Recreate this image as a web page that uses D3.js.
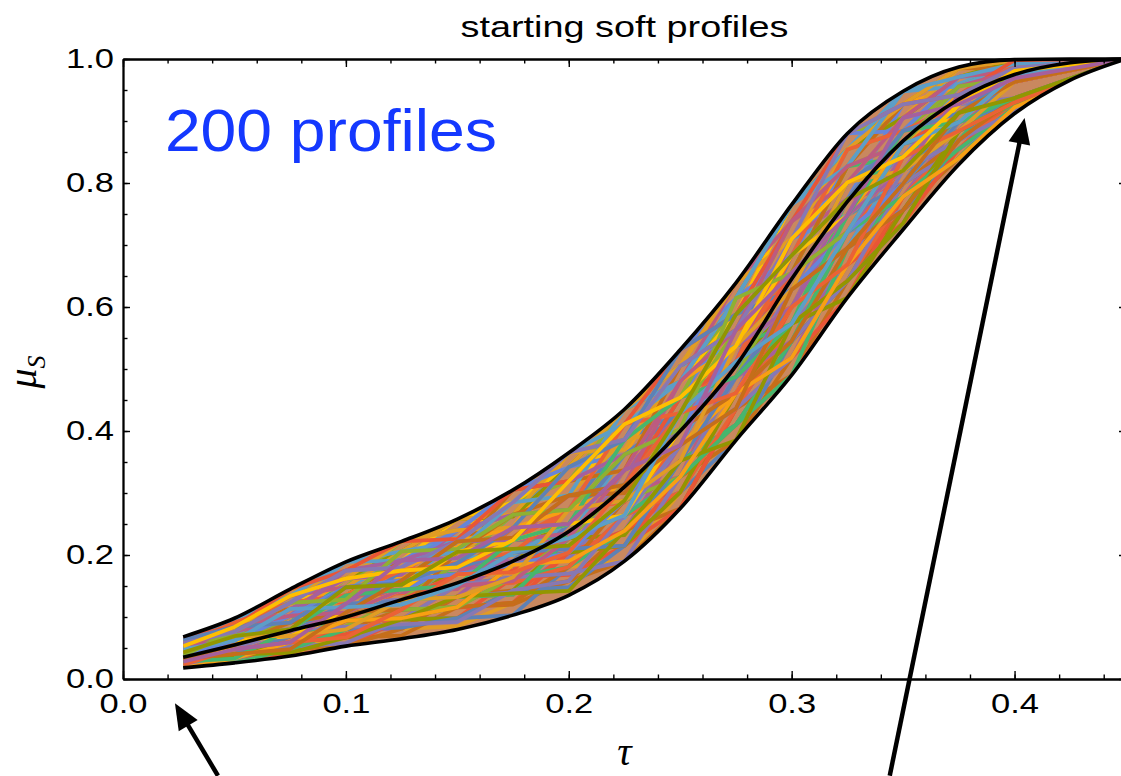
<!DOCTYPE html>
<html>
<head>
<meta charset="utf-8">
<script src="https://cdn.jsdelivr.net/npm/d3@7"></script>
<style>
  body { margin: 0; background: #fff; }
</style>
</head>
<body>
<svg id="chart" width="1121" height="776"></svg>
<script>
// tau grid the sampled profiles are read at
const tauGrid = [0.027, 0.05, 0.075, 0.1, 0.125, 0.15, 0.175, 0.2, 0.225, 0.25,
  0.275, 0.3, 0.325, 0.35, 0.375, 0.4, 0.45];

// soft profiles (a sample of the 200 drawn), mu_S at each tauGrid point
const profiles = [
  [0.043, 0.048, 0.102, 0.107, 0.175, 0.18, 0.19, 0.273, 0.386, 0.429, 0.487, 0.683, 0.748, 0.799, 0.927, 0.963, 1],
  [0.018, 0.033, 0.037, 0.08, 0.081, 0.085, 0.123, 0.181, 0.19, 0.301, 0.385, 0.518, 0.668, 0.735, 0.855, 0.915, 1],
  [0.068, 0.091, 0.145, 0.162, 0.206, 0.258, 0.285, 0.319, 0.435, 0.505, 0.639, 0.738, 0.827, 0.948, 0.971, 0.998, 1],
  [0.028, 0.055, 0.06, 0.094, 0.144, 0.15, 0.184, 0.273, 0.285, 0.403, 0.563, 0.6, 0.668, 0.842, 0.884, 0.975, 1],
  [0.043, 0.062, 0.102, 0.121, 0.128, 0.187, 0.204, 0.25, 0.337, 0.403, 0.487, 0.628, 0.774, 0.842, 0.898, 0.975, 1],
  [0.023, 0.026, 0.059, 0.067, 0.07, 0.116, 0.12, 0.158, 0.239, 0.275, 0.436, 0.49, 0.642, 0.756, 0.84, 0.93, 1],
  [0.058, 0.069, 0.134, 0.148, 0.152, 0.222, 0.224, 0.227, 0.362, 0.505, 0.537, 0.71, 0.748, 0.884, 0.971, 0.975, 1],
  [0.063, 0.098, 0.123, 0.175, 0.222, 0.228, 0.305, 0.342, 0.386, 0.531, 0.614, 0.765, 0.854, 0.905, 0.985, 0.992, 1],
  [0.023, 0.04, 0.08, 0.08, 0.081, 0.133, 0.204, 0.204, 0.239, 0.377, 0.436, 0.518, 0.695, 0.778, 0.898, 0.937, 1],
  [0.038, 0.069, 0.091, 0.135, 0.144, 0.169, 0.184, 0.273, 0.313, 0.429, 0.512, 0.6, 0.748, 0.863, 0.913, 0.969, 1],
  [0.028, 0.033, 0.037, 0.053, 0.096, 0.098, 0.164, 0.168, 0.215, 0.326, 0.41, 0.49, 0.615, 0.778, 0.869, 0.922, 1],
  [0.063, 0.076, 0.123, 0.189, 0.192, 0.24, 0.265, 0.273, 0.411, 0.454, 0.588, 0.738, 0.801, 0.905, 0.927, 0.986, 1],
  [0.058, 0.091, 0.145, 0.189, 0.191, 0.24, 0.244, 0.365, 0.411, 0.48, 0.639, 0.71, 0.88, 0.927, 0.956, 0.998, 1],
  [0.048, 0.055, 0.091, 0.107, 0.159, 0.169, 0.224, 0.227, 0.313, 0.377, 0.537, 0.655, 0.721, 0.842, 0.927, 0.963, 1],
  [0.038, 0.069, 0.091, 0.162, 0.165, 0.17, 0.244, 0.25, 0.264, 0.403, 0.537, 0.573, 0.774, 0.82, 0.869, 0.969, 1],
  [0.018, 0.04, 0.048, 0.094, 0.096, 0.098, 0.103, 0.181, 0.264, 0.301, 0.385, 0.545, 0.642, 0.735, 0.884, 0.922, 1],
  [0.048, 0.084, 0.113, 0.121, 0.206, 0.212, 0.225, 0.319, 0.337, 0.377, 0.563, 0.655, 0.827, 0.863, 0.913, 0.981, 1],
  [0.068, 0.084, 0.134, 0.148, 0.222, 0.24, 0.265, 0.342, 0.435, 0.505, 0.563, 0.738, 0.88, 0.905, 0.971, 0.992, 1],
  [0.033, 0.062, 0.113, 0.121, 0.125, 0.169, 0.244, 0.25, 0.264, 0.403, 0.563, 0.628, 0.695, 0.842, 0.942, 0.969, 1],
  [0.033, 0.035, 0.069, 0.121, 0.125, 0.187, 0.19, 0.195, 0.288, 0.326, 0.461, 0.628, 0.721, 0.756, 0.884, 0.93, 1],
  [0.033, 0.04, 0.048, 0.053, 0.081, 0.133, 0.143, 0.158, 0.19, 0.275, 0.436, 0.573, 0.642, 0.778, 0.84, 0.915, 1],
  [0.053, 0.091, 0.102, 0.162, 0.222, 0.228, 0.285, 0.296, 0.313, 0.48, 0.614, 0.683, 0.854, 0.948, 0.96, 0.992, 1],
  [0.053, 0.091, 0.123, 0.175, 0.191, 0.258, 0.285, 0.296, 0.411, 0.531, 0.588, 0.765, 0.854, 0.927, 0.985, 0.986, 1],
  [0.053, 0.062, 0.069, 0.121, 0.175, 0.178, 0.182, 0.25, 0.362, 0.403, 0.461, 0.628, 0.801, 0.842, 0.884, 0.969, 1],
  [0.018, 0.04, 0.069, 0.072, 0.096, 0.098, 0.143, 0.227, 0.232, 0.352, 0.41, 0.545, 0.642, 0.799, 0.855, 0.922, 1],
  [0.023, 0.048, 0.059, 0.067, 0.112, 0.115, 0.123, 0.204, 0.239, 0.301, 0.461, 0.518, 0.615, 0.756, 0.869, 0.93, 1],
  [0.043, 0.076, 0.08, 0.135, 0.14, 0.187, 0.265, 0.342, 0.362, 0.429, 0.512, 0.71, 0.774, 0.927, 0.942, 0.969, 1],
  [0.063, 0.076, 0.134, 0.189, 0.206, 0.212, 0.305, 0.319, 0.362, 0.505, 0.639, 0.71, 0.827, 0.948, 0.971, 0.998, 1],
  [0.043, 0.076, 0.102, 0.107, 0.144, 0.205, 0.224, 0.227, 0.313, 0.454, 0.537, 0.6, 0.748, 0.884, 0.927, 0.963, 1],
  [0.028, 0.048, 0.102, 0.107, 0.159, 0.222, 0.224, 0.23, 0.313, 0.454, 0.487, 0.655, 0.827, 0.842, 0.898, 0.981, 1],
  [0.028, 0.03, 0.069, 0.08, 0.083, 0.098, 0.143, 0.148, 0.215, 0.352, 0.41, 0.545, 0.695, 0.756, 0.855, 0.915, 1],
  [0.058, 0.062, 0.113, 0.118, 0.144, 0.205, 0.285, 0.296, 0.386, 0.403, 0.461, 0.6, 0.774, 0.884, 0.913, 0.986, 1],
  [0.058, 0.098, 0.134, 0.162, 0.175, 0.24, 0.265, 0.365, 0.386, 0.454, 0.614, 0.765, 0.854, 0.884, 0.956, 0.992, 1],
  [0.038, 0.055, 0.102, 0.135, 0.138, 0.151, 0.224, 0.273, 0.288, 0.377, 0.537, 0.655, 0.721, 0.82, 0.927, 0.975, 1],
  [0.038, 0.048, 0.059, 0.121, 0.128, 0.132, 0.14, 0.204, 0.337, 0.377, 0.436, 0.573, 0.668, 0.82, 0.927, 0.937, 1],
  [0.038, 0.048, 0.05, 0.08, 0.112, 0.116, 0.123, 0.181, 0.288, 0.326, 0.385, 0.518, 0.668, 0.799, 0.869, 0.922, 1],
  [0.048, 0.055, 0.091, 0.148, 0.191, 0.195, 0.2, 0.25, 0.26, 0.377, 0.537, 0.628, 0.695, 0.842, 0.956, 0.975, 1],
  [0.068, 0.091, 0.113, 0.175, 0.222, 0.226, 0.285, 0.342, 0.435, 0.48, 0.588, 0.738, 0.88, 0.927, 0.985, 0.992, 1],
  [0.048, 0.069, 0.08, 0.107, 0.159, 0.187, 0.19, 0.227, 0.337, 0.429, 0.487, 0.6, 0.774, 0.863, 0.898, 0.963, 1],
  [0.068, 0.084, 0.134, 0.162, 0.206, 0.258, 0.262, 0.342, 0.435, 0.48, 0.614, 0.765, 0.854, 0.905, 0.971, 0.998, 1],
  [0.023, 0.04, 0.069, 0.072, 0.096, 0.133, 0.136, 0.204, 0.215, 0.275, 0.436, 0.6, 0.668, 0.735, 0.855, 0.937, 1],
  [0.048, 0.084, 0.145, 0.175, 0.191, 0.24, 0.305, 0.319, 0.411, 0.531, 0.614, 0.683, 0.827, 0.948, 0.971, 0.986, 1],
  [0.028, 0.055, 0.102, 0.162, 0.165, 0.168, 0.172, 0.227, 0.337, 0.48, 0.537, 0.6, 0.668, 0.82, 0.927, 0.986, 1],
  [0.033, 0.062, 0.123, 0.135, 0.14, 0.145, 0.224, 0.296, 0.3, 0.326, 0.512, 0.71, 0.774, 0.799, 0.898, 0.963, 1],
  [0.018, 0.033, 0.059, 0.107, 0.112, 0.116, 0.164, 0.181, 0.239, 0.352, 0.41, 0.49, 0.695, 0.778, 0.84, 0.93, 1],
  [0.053, 0.069, 0.08, 0.121, 0.125, 0.151, 0.164, 0.25, 0.362, 0.429, 0.588, 0.628, 0.801, 0.863, 0.884, 0.969, 1],
  [0.063, 0.084, 0.134, 0.148, 0.206, 0.258, 0.265, 0.365, 0.37, 0.505, 0.639, 0.738, 0.801, 0.905, 0.985, 0.998, 1],
  [0.058, 0.069, 0.08, 0.085, 0.128, 0.187, 0.265, 0.273, 0.288, 0.326, 0.487, 0.655, 0.827, 0.863, 0.898, 0.93, 1],
  [0.023, 0.026, 0.048, 0.094, 0.096, 0.151, 0.155, 0.181, 0.264, 0.301, 0.436, 0.573, 0.642, 0.778, 0.869, 0.922, 1],
  [0.028, 0.048, 0.052, 0.058, 0.096, 0.151, 0.164, 0.17, 0.19, 0.326, 0.487, 0.545, 0.642, 0.799, 0.855, 0.915, 1],
  [0.063, 0.098, 0.113, 0.135, 0.191, 0.205, 0.305, 0.319, 0.337, 0.505, 0.563, 0.655, 0.827, 0.927, 0.985, 0.986, 1],
  [0.053, 0.098, 0.123, 0.189, 0.206, 0.222, 0.285, 0.296, 0.435, 0.48, 0.614, 0.765, 0.854, 0.948, 0.956, 0.992, 1],
  [0.043, 0.048, 0.08, 0.135, 0.175, 0.187, 0.204, 0.21, 0.288, 0.429, 0.563, 0.655, 0.748, 0.799, 0.898, 0.975, 1],
  [0.043, 0.055, 0.113, 0.162, 0.168, 0.24, 0.265, 0.273, 0.288, 0.352, 0.487, 0.545, 0.721, 0.842, 0.942, 0.975, 1],
  [0.033, 0.036, 0.059, 0.094, 0.098, 0.116, 0.184, 0.204, 0.215, 0.301, 0.461, 0.573, 0.615, 0.756, 0.884, 0.93, 1],
  [0.028, 0.062, 0.069, 0.08, 0.128, 0.169, 0.175, 0.227, 0.313, 0.454, 0.512, 0.655, 0.721, 0.863, 0.913, 0.963, 1],
  [0.068, 0.091, 0.123, 0.175, 0.18, 0.24, 0.305, 0.342, 0.386, 0.531, 0.588, 0.738, 0.88, 0.884, 0.971, 0.986, 1],
  [0.033, 0.055, 0.091, 0.135, 0.175, 0.222, 0.244, 0.273, 0.313, 0.377, 0.461, 0.6, 0.748, 0.863, 0.942, 0.986, 1],
  [0.048, 0.076, 0.134, 0.148, 0.159, 0.169, 0.224, 0.235, 0.313, 0.48, 0.639, 0.738, 0.801, 0.905, 0.971, 0.981, 1],
  [0.023, 0.026, 0.048, 0.08, 0.128, 0.132, 0.136, 0.227, 0.264, 0.326, 0.41, 0.545, 0.721, 0.778, 0.855, 0.922, 1],
  [0.038, 0.04, 0.069, 0.107, 0.175, 0.18, 0.204, 0.21, 0.215, 0.352, 0.487, 0.6, 0.748, 0.799, 0.898, 0.93, 1],
  [0.058, 0.076, 0.145, 0.162, 0.222, 0.24, 0.244, 0.342, 0.435, 0.505, 0.639, 0.71, 0.854, 0.927, 0.985, 0.998, 1],
  [0.053, 0.069, 0.091, 0.107, 0.112, 0.116, 0.164, 0.227, 0.313, 0.429, 0.563, 0.655, 0.748, 0.82, 0.884, 0.93, 1],
  [0.058, 0.091, 0.123, 0.135, 0.175, 0.187, 0.204, 0.273, 0.411, 0.429, 0.512, 0.683, 0.854, 0.884, 0.927, 0.992, 1],
  [0.018, 0.048, 0.08, 0.084, 0.088, 0.092, 0.143, 0.158, 0.264, 0.377, 0.436, 0.518, 0.668, 0.82, 0.869, 0.915, 1],
  [0.033, 0.055, 0.091, 0.107, 0.112, 0.205, 0.265, 0.296, 0.3, 0.403, 0.461, 0.545, 0.695, 0.756, 0.869, 0.937, 1],
  [0.063, 0.098, 0.134, 0.189, 0.191, 0.205, 0.285, 0.365, 0.411, 0.48, 0.614, 0.765, 0.827, 0.948, 0.971, 0.992, 1],
  [0.048, 0.062, 0.069, 0.107, 0.144, 0.205, 0.224, 0.25, 0.264, 0.403, 0.537, 0.683, 0.748, 0.82, 0.927, 0.969, 1],
  [0.053, 0.062, 0.102, 0.175, 0.191, 0.222, 0.224, 0.319, 0.362, 0.403, 0.537, 0.6, 0.748, 0.82, 0.942, 0.969, 1],
  [0.028, 0.04, 0.042, 0.067, 0.096, 0.133, 0.138, 0.142, 0.239, 0.352, 0.385, 0.573, 0.642, 0.735, 0.884, 0.93, 1],
  [0.068, 0.084, 0.145, 0.175, 0.222, 0.226, 0.305, 0.319, 0.411, 0.531, 0.588, 0.738, 0.88, 0.927, 0.942, 0.998, 1],
  [0.038, 0.062, 0.102, 0.148, 0.159, 0.169, 0.184, 0.204, 0.288, 0.403, 0.537, 0.628, 0.721, 0.799, 0.913, 0.975, 1],
  [0.018, 0.033, 0.059, 0.094, 0.098, 0.116, 0.184, 0.19, 0.239, 0.326, 0.461, 0.518, 0.668, 0.778, 0.84, 0.922, 1],
  [0.048, 0.084, 0.102, 0.107, 0.144, 0.15, 0.158, 0.227, 0.337, 0.48, 0.563, 0.738, 0.827, 0.863, 0.956, 0.981, 1],
  [0.028, 0.033, 0.08, 0.135, 0.144, 0.151, 0.224, 0.25, 0.386, 0.454, 0.487, 0.573, 0.748, 0.884, 0.898, 0.937, 1],
  [0.063, 0.084, 0.091, 0.148, 0.155, 0.187, 0.244, 0.342, 0.386, 0.531, 0.588, 0.683, 0.774, 0.884, 0.913, 0.975, 1],
  [0.043, 0.069, 0.069, 0.08, 0.128, 0.132, 0.164, 0.273, 0.288, 0.352, 0.537, 0.628, 0.801, 0.82, 0.884, 0.963, 1],
  [0.038, 0.076, 0.123, 0.128, 0.206, 0.21, 0.265, 0.273, 0.362, 0.403, 0.614, 0.655, 0.721, 0.863, 0.956, 0.969, 1],
  [0.023, 0.048, 0.059, 0.067, 0.112, 0.169, 0.172, 0.204, 0.313, 0.429, 0.461, 0.6, 0.668, 0.842, 0.884, 0.93, 1],
  [0.058, 0.076, 0.123, 0.175, 0.18, 0.222, 0.285, 0.365, 0.386, 0.505, 0.563, 0.71, 0.88, 0.927, 0.942, 0.986, 1],
  [0.033, 0.04, 0.048, 0.107, 0.159, 0.222, 0.228, 0.296, 0.313, 0.377, 0.436, 0.628, 0.695, 0.799, 0.913, 0.963, 1],
  [0.048, 0.062, 0.113, 0.116, 0.12, 0.151, 0.204, 0.227, 0.264, 0.429, 0.512, 0.573, 0.721, 0.863, 0.898, 0.975, 1],
  [0.053, 0.084, 0.134, 0.162, 0.175, 0.18, 0.224, 0.319, 0.411, 0.454, 0.537, 0.71, 0.801, 0.842, 0.927, 0.981, 1],
  [0.028, 0.048, 0.059, 0.121, 0.191, 0.195, 0.244, 0.25, 0.337, 0.377, 0.563, 0.655, 0.748, 0.905, 0.927, 0.969, 1],
  [0.043, 0.069, 0.08, 0.148, 0.152, 0.205, 0.21, 0.215, 0.288, 0.429, 0.588, 0.683, 0.774, 0.82, 0.913, 0.937, 1],
];

// the three black reference profiles
const tauEnv = [0.027, 0.05, 0.075, 0.1, 0.125, 0.15, 0.175, 0.2, 0.225, 0.25,
  0.275, 0.3, 0.325, 0.35, 0.375, 0.4, 0.425, 0.45];
const upperProfile = [0.068, 0.098, 0.145, 0.189, 0.222, 0.258, 0.305, 0.365, 0.435, 0.531,
  0.639, 0.765, 0.88, 0.948, 0.987, 0.999, 1.0, 1.0];
const middleProfile = [0.035, 0.055, 0.078, 0.1, 0.128, 0.155, 0.19, 0.238, 0.31, 0.4,
  0.505, 0.645, 0.77, 0.868, 0.935, 0.975, 0.994, 1.0];
const lowerProfile = [0.018, 0.026, 0.037, 0.053, 0.065, 0.08, 0.103, 0.135, 0.19, 0.275,
  0.385, 0.49, 0.615, 0.725, 0.83, 0.912, 0.966, 1.0];

const xTicks = [0, 0.1, 0.2, 0.3, 0.4];
const yTicks = [0, 0.2, 0.4, 0.6, 0.8, 1.0];

// Mathematica default plot colours
const palette = ["#5E81B5", "#E19C24", "#8FB032", "#EB6235", "#8778B3", "#C56E1A",
  "#5D9EC7", "#FFBF00", "#A5609D", "#929600", "#E95536", "#6685D9", "#F89F13",
  "#BC5B80", "#47B66D"];

// annotation arrows, [tau, mu] of tail and tip
const arrows = [
  { from: [0.0426, -0.156], to: [0.0233, -0.039] },
  { from: [0.344, -0.156], to: [0.4045, 0.905] },
];

const svg = d3.select("#chart");
const x = d3.scaleLinear().domain([0, 0.45]).range([123, 1126]);
const y = d3.scaleLinear().domain([0, 1]).range([679, 59]);

const sansFont = "'Liberation Sans', Arial, Helvetica, sans-serif";
const serifFont = "'Liberation Serif', 'Times New Roman', serif";

// band between the outer black profiles: clips the coloured ones and
// gives a blended backing so no white shows through the tangle
const band = d3.area()
  .x((d, i) => x(tauEnv[i]))
  .y0((d, i) => y(lowerProfile[i]))
  .y1((d, i) => y(upperProfile[i]))
  .curve(d3.curveMonotoneX);
svg.append("defs").append("clipPath").attr("id", "bandClip")
  .append("path").attr("d", band(tauEnv));
svg.append("path")
  .attr("d", band(tauEnv))
  .attr("fill", "#C9885F");

// colored profiles
const profileLine = d3.line()
  .x((d, i) => x(tauGrid[i]))
  .y((d) => y(d));
svg.append("g")
  .attr("clip-path", "url(#bandClip)")
  .selectAll("path")
  .data(profiles)
  .join("path")
  .attr("d", profileLine)
  .attr("fill", "none")
  .attr("stroke", (d, i) => palette[i % palette.length])
  .attr("stroke-width", 3.8)
  .attr("stroke-linejoin", "round");

// black smooth profiles on top
const envLine = d3.line()
  .x((d, i) => x(tauEnv[i]))
  .y((d) => y(d))
  .curve(d3.curveMonotoneX);
svg.append("g")
  .selectAll("path")
  .data([upperProfile, middleProfile, lowerProfile])
  .join("path")
  .attr("d", envLine)
  .attr("fill", "none")
  .attr("stroke", "#000")
  .attr("stroke-width", 3.6);

// frame with inward ticks
function styleAxis(g, showText) {
  g.selectAll(".domain").attr("stroke", "#000").attr("stroke-width", 1.8);
  g.selectAll(".tick line").attr("stroke", "#000").attr("stroke-width", 1.4);
  if (!showText) g.selectAll("text").remove();
}
const xMinor = x.ticks(20);
const yMinor = y.ticks(20);

svg.append("g").attr("transform", `translate(0,${y(0)})`)
  .call(d3.axisBottom(x).tickValues(xMinor).tickSizeInner(-4.5).tickSizeOuter(0).tickFormat(""))
  .call((g) => styleAxis(g, false));
svg.append("g").attr("transform", `translate(0,${y(1)})`)
  .call(d3.axisTop(x).tickValues(xMinor).tickSizeInner(-4.5).tickSizeOuter(0).tickFormat(""))
  .call((g) => styleAxis(g, false));
svg.append("g").attr("transform", `translate(${x(0)},0)`)
  .call(d3.axisLeft(y).tickValues(yMinor).tickSizeInner(-4.5).tickSizeOuter(0).tickFormat(""))
  .call((g) => styleAxis(g, false));
svg.append("g").attr("transform", `translate(${x(0.45)},0)`)
  .call(d3.axisRight(y).tickValues(yMinor).tickSizeInner(-4.5).tickSizeOuter(0).tickFormat(""))
  .call((g) => styleAxis(g, false));

const xAxis = svg.append("g").attr("transform", `translate(0,${y(0)})`)
  .call(d3.axisBottom(x).tickValues(xTicks).tickSizeInner(-8).tickSizeOuter(0)
    .tickPadding(14).tickFormat(d3.format(".1f")))
  .call((g) => styleAxis(g, true));
svg.append("g").attr("transform", `translate(0,${y(1)})`)
  .call(d3.axisTop(x).tickValues(xTicks).tickSizeInner(-8).tickSizeOuter(0).tickFormat(""))
  .call((g) => styleAxis(g, false));
const yAxis = svg.append("g").attr("transform", `translate(${x(0)},0)`)
  .call(d3.axisLeft(y).tickValues(yTicks).tickSizeInner(-7).tickSizeOuter(0)
    .tickPadding(9).tickFormat(d3.format(".1f")))
  .call((g) => styleAxis(g, true));
svg.append("g").attr("transform", `translate(${x(0.45)},0)`)
  .call(d3.axisRight(y).tickValues(yTicks).tickSizeInner(-7).tickSizeOuter(0).tickFormat(""))
  .call((g) => styleAxis(g, false));

[xAxis, yAxis].forEach((g) => {
  g.selectAll("text")
    .attr("fill", "#000")
    .style("font-family", sansFont)
    .style("font-size", "28px")
    .attr("textLength", 48)
    .attr("lengthAdjust", "spacingAndGlyphs");
});

// title
svg.append("text")
  .attr("x", (x(0) + x(0.45)) / 2)
  .attr("y", 37)
  .attr("text-anchor", "middle")
  .style("font-family", sansFont)
  .style("font-size", "29px")
  .attr("textLength", 328)
  .attr("lengthAdjust", "spacingAndGlyphs")
  .text("starting soft profiles");

// annotation inside the plot
svg.append("text")
  .attr("x", x(0.0188))
  .attr("y", y(0.852))
  .attr("fill", "#1438FF")
  .style("font-family", sansFont)
  .style("font-size", "59px")
  .attr("textLength", 332)
  .attr("lengthAdjust", "spacingAndGlyphs")
  .text("200 profiles");

// axis labels
svg.append("text")
  .attr("x", (x(0) + x(0.45)) / 2)
  .attr("y", 765)
  .attr("text-anchor", "middle")
  .style("font-family", serifFont)
  .style("font-style", "italic")
  .style("font-size", "40px")
  .text("τ");

const yLabel = svg.append("text")
  .attr("transform", "translate(36,372) rotate(-90)")
  .attr("text-anchor", "middle")
  .style("font-family", serifFont)
  .style("font-style", "italic")
  .style("font-size", "40px");
yLabel.append("tspan").text("μ");
yLabel.append("tspan").attr("dy", 9).style("font-size", "26px").text("S");

// arrows
const headLen = 26;
const headHalf = 11;
const arrowG = svg.append("g");
arrows.forEach((a) => {
  const x0 = x(a.from[0]), y0 = y(a.from[1]);
  const x1 = x(a.to[0]), y1 = y(a.to[1]);
  const len = Math.hypot(x1 - x0, y1 - y0);
  const ux = (x1 - x0) / len, uy = (y1 - y0) / len;
  const bx = x1 - ux * headLen, by = y1 - uy * headLen;
  arrowG.append("line")
    .attr("x1", x0).attr("y1", y0)
    .attr("x2", bx + ux * 2).attr("y2", by + uy * 2)
    .attr("stroke", "#000")
    .attr("stroke-width", 4.5);
  arrowG.append("path")
    .attr("d", `M${x1},${y1}L${bx - uy * headHalf},${by + ux * headHalf}L${bx + uy * headHalf},${by - ux * headHalf}Z`)
    .attr("fill", "#000");
});
</script>
</body>
</html>
